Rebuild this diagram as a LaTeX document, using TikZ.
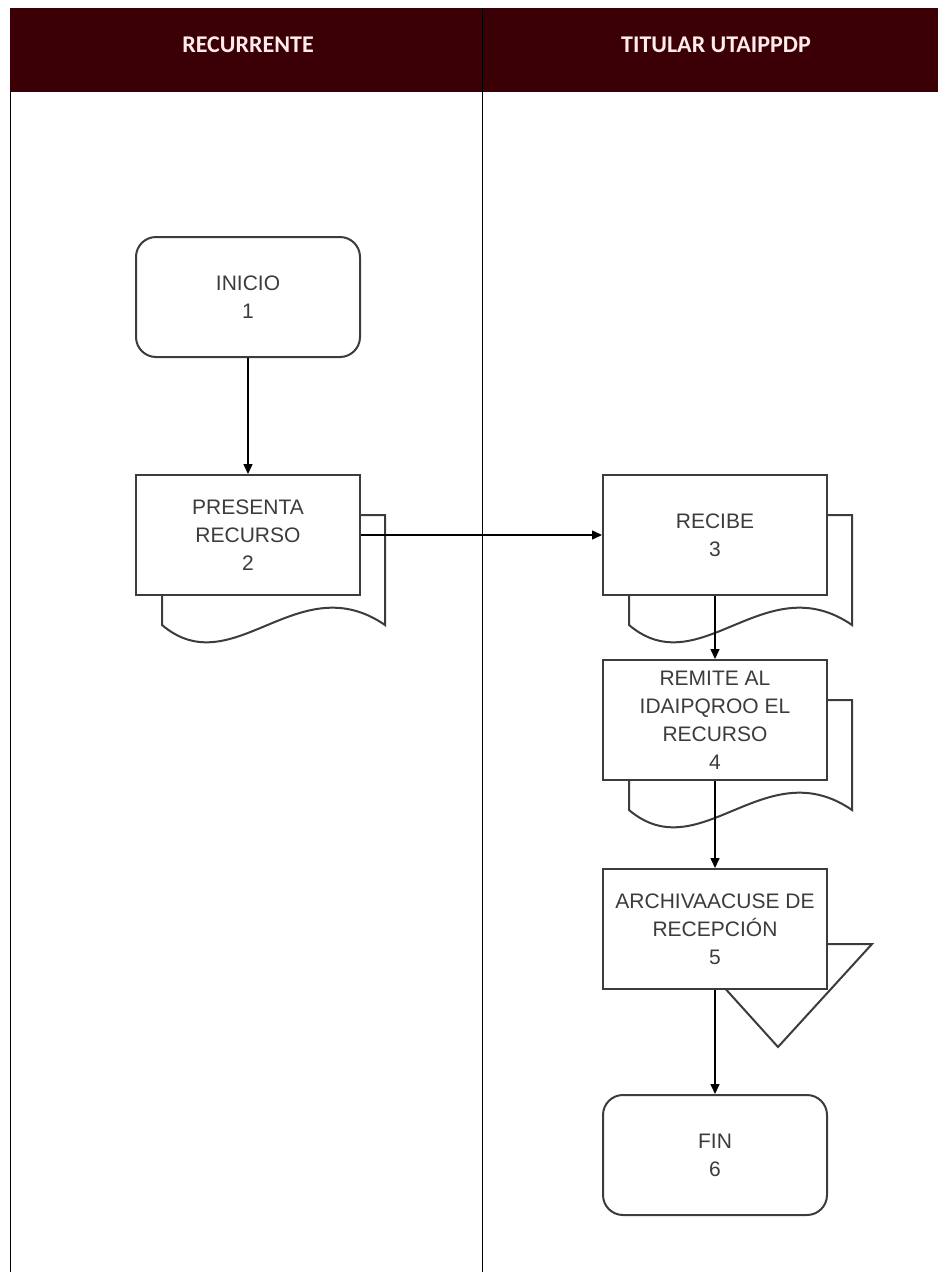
\documentclass[tikz,border=0pt]{standalone}
\usepackage{fontspec}
\setmainfont{Liberation Sans}
\newfontfamily\hdrfont{Carlito}
\usetikzlibrary{arrows.meta}
\definecolor{hdrred}{HTML}{3A0005}
\definecolor{ink}{HTML}{3C3C3C}

\begin{document}
\begin{tikzpicture}[x=1pt, y=-1pt]
    \tikzstyle{lane} = [draw=black, line width=1pt]
    \tikzstyle{hdr} = [text=white!92!red, font=\hdrfont\bfseries\fontsize{24}{28}\selectfont]
    \tikzstyle{proc} = [rectangle, draw=ink, line width=2pt, fill=white, minimum width=224pt, minimum height=120pt, align=center, text=ink, inner sep=0pt, font=\fontsize{21}{28}\selectfont]
    \tikzstyle{term} = [proc, rounded corners=20pt]
    \tikzstyle{back} = [draw=ink, line width=2pt, fill=white]
    \tikzstyle{arrow} = [-{Triangle[length=10pt, width=9pt]}, line width=1.5pt]
    \useasboundingbox (0,0) rectangle (938,1272);
    % header and lanes
    \fill[hdrred] (10,8) rectangle (938,92);
    \draw[lane] (10,92) -- (10,1272);
    \draw[lane] (482,8) -- (482,1272);
    \node[hdr] (h1) at (248,45) {RECURRENTE};
    \node[hdr] (h2) at (716,45) {TITULAR UTAIPPDP};
    % document backs
    \foreach \cx/\cy in {248/535, 715/535, 715/720}
        \draw[back] (\cx-86,\cy+90) -- (\cx-86,\cy-20) -- (\cx+137,\cy-20) -- (\cx+137,\cy+90)
            .. controls (\cx+50,\cy+30) and (\cx-15,\cy+150) .. cycle;
    \draw[back] (685,944) -- (872,944) -- (778,1047) -- cycle;
    % steps
    \node[term] (s1) at (248,297) {INICIO\\1};
    \node[proc] (s2) at (248,535) {PRESENTA\\RECURSO\\2};
    \node[proc] (s3) at (715,535) {RECIBE\\3};
    \node[proc] (s4) at (715,720) {REMITE AL\\IDAIPQROO EL\\RECURSO\\4};
    \node[proc] (s5) at (715,929) {ARCHIVAACUSE DE\\RECEPCIÓN\\5};
    \node[term] (s6) at (715,1155) {FIN\\6};
    \draw[arrow] (s1) -- (s2);
    \draw[arrow] (s2) -- (s3);
    \draw[arrow] (s3) -- (s4);
    \draw[arrow] (s4) -- (s5);
    \draw[arrow] (s5) -- (s6);
\end{tikzpicture}
\end{document}
